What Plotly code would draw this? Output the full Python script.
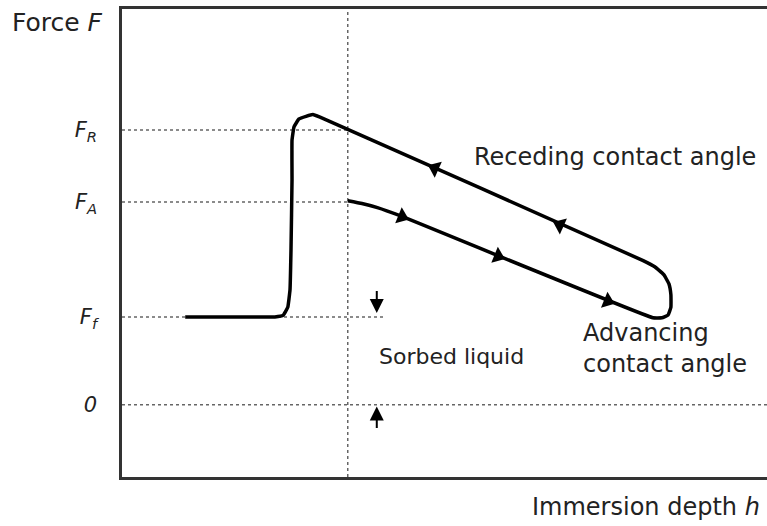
import numpy as np
import plotly.graph_objects as go

# force levels (arbitrary units, 0 = zero force)
F_R = 3.125
F_A = 2.307
F_F = 1.0
tick_vals = [0, F_F, F_A, F_R]
tick_text = ["<i>0</i>", "<i>F<sub>f</sub></i>", "<i>F<sub>A</sub></i>", "<i>F<sub>R</sub></i>"]

# immersion depth where the sample starts moving back
h_turn = 35.0

# hysteresis loop
loop_h = [9.8, 23.7, 25.0, 25.7, 26.05, 26.2, 26.36, 26.36, 26.67, 27.44, 28.53, 29.6, 30.7,
          80.8, 82.6, 84.0, 84.8, 85.1, 85.1, 84.65, 83.7, 82.3,
          43.1, 39.6, 37.2, 35.0]
loop_f = [1.0, 1.0, 1.02, 1.11, 1.31, 1.76, 2.56, 3.01, 3.16, 3.25, 3.28, 3.30, 3.27,
          1.64, 1.57, 1.48, 1.375, 1.25, 1.11, 1.02, 0.99, 0.99,
          2.15, 2.242, 2.289, 2.32]

# direction arrows on the loop
adv_arrow_h = [43.4, 58.3, 75.3]
adv_arrow_f = [2.14, 1.69, 1.18]
rec_arrow_h = [48.5, 67.9]
rec_arrow_f = [2.69, 2.045]

FONT = "DejaVu Sans, sans-serif"
DOT = dict(color="#666", width=1.5, dash="dot")

fig = go.Figure()

# dotted guide lines
fig.add_trace(go.Scatter(x=[0, h_turn], y=[F_R, F_R], mode="lines", line=DOT))
fig.add_trace(go.Scatter(x=[0, h_turn], y=[F_A, F_A], mode="lines", line=DOT))
fig.add_trace(go.Scatter(x=[0, 40.8], y=[F_F, F_F], mode="lines", line=DOT))
fig.add_trace(go.Scatter(x=[0, 100], y=[0, 0], mode="lines", line=DOT))
fig.add_trace(go.Scatter(x=[h_turn, h_turn], y=[-0.82, 4.5], mode="lines", line=DOT))

# the loop
fig.add_trace(go.Scatter(x=loop_h, y=loop_f, mode="lines",
                         line=dict(color="black", width=3.5, shape="spline", smoothing=0.3)))

fig.add_trace(go.Scatter(x=adv_arrow_h, y=adv_arrow_f, mode="markers",
                         marker=dict(symbol="triangle-right", size=15, color="black",
                                     angle=22)))
fig.add_trace(go.Scatter(x=rec_arrow_h, y=rec_arrow_f, mode="markers",
                         marker=dict(symbol="triangle-left", size=15, color="black",
                                     angle=24)))

# sorbed liquid arrows
for tip, tail in [(1.045, 1.31), (-0.02, -0.28)]:
    fig.add_annotation(x=39.5, y=tip, ax=39.5, ay=tail, xref="x", yref="y",
                       axref="x", ayref="y", text="", showarrow=True,
                       arrowhead=2, arrowsize=1.4, arrowwidth=2, arrowcolor="black")

fig.add_annotation(x=39.5, y=0.545, xref="x", yref="y", text="Sorbed liquid",
                   showarrow=False, xanchor="left", font=dict(size=22))
fig.add_annotation(x=54.3, y=2.82, xref="x", yref="y", text="Receding contact angle",
                   showarrow=False, xanchor="left")
fig.add_annotation(x=71.2, y=0.636, xref="x", yref="y", text="Advancing<br>contact angle",
                   showarrow=False, xanchor="left", align="left")
fig.add_annotation(x=0.992, y=-0.064, xref="paper", yref="paper", text="Immersion depth <i>h</i>",
                   showarrow=False, xanchor="right", yanchor="middle")
fig.add_annotation(x=-0.174, y=0.972, xref="paper", yref="paper", text="Force <i>F</i>",
                   showarrow=False, xanchor="left", yanchor="middle", font=dict(size=25))

fig.update_layout(
    width=767, height=526,
    margin=dict(l=122, r=0, t=9, b=49),
    paper_bgcolor="white", plot_bgcolor="white",
    showlegend=False,
    font=dict(family=FONT, size=24, color="#222"),
    xaxis=dict(range=[0, 100], showgrid=False, zeroline=False, showticklabels=False,
               showline=True, linecolor="#333", linewidth=2.5, mirror=True, ticks="",
               automargin=False),
    yaxis=dict(range=[-0.82, 4.5], showgrid=False, zeroline=False,
               tickvals=tick_vals, ticktext=tick_text, ticks="",
               tickfont=dict(size=21), ticklabelstandoff=18,
               showline=True, linecolor="#333", linewidth=2.5, automargin=False),
)
fig.update_traces(hoverinfo="skip")

# drop the browser's default 8px body margin so the figure fills the window
fig.write_html("out.html", config={"displayModeBar": False},
               post_script="document.body.style.margin = '0';")
